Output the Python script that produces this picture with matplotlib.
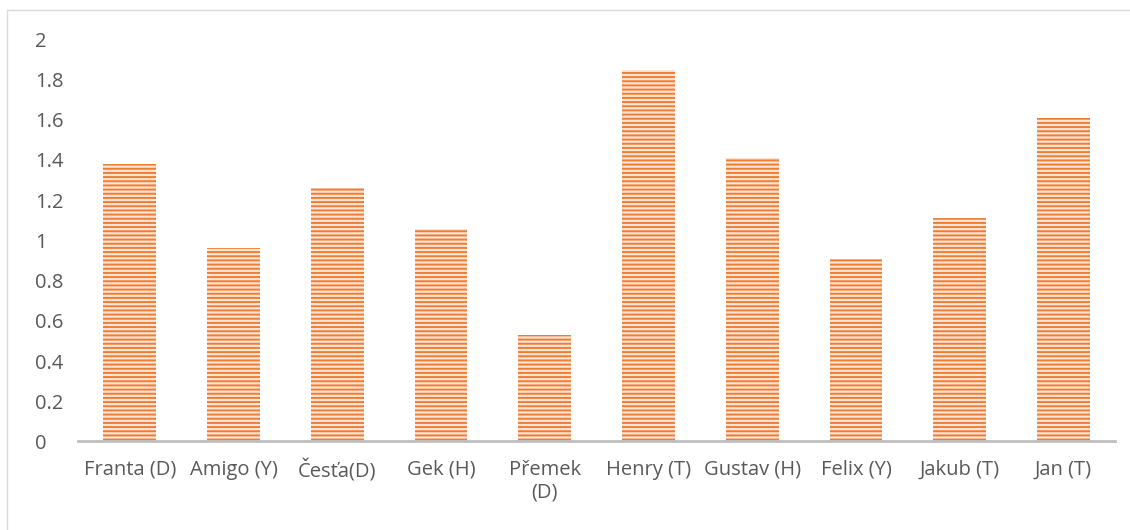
import numpy as np
import matplotlib.pyplot as plt
from matplotlib.patches import Rectangle

# Data
names = ["Franta (D)", "Amigo (Y)", "Česťa(D)", "Gek (H)", "Přemek\n(D)",
         "Henry (T)", "Gustav (H)", "Felix (Y)", "Jakub (T)", "Jan (T)"]
values = [1.38, 0.96, 1.26, 1.055, 0.53, 1.845, 1.41, 0.905, 1.11, 1.61]
y_ticks = [0, 0.2, 0.4, 0.6, 0.8, 1, 1.2, 1.4, 1.6, 1.8, 2]
y_tick_labels = ["0", "0.2", "0.4", "0.6", "0.8", "1", "1.2", "1.4", "1.6", "1.8", "2"]

orange = "#ED7D31"
text_gray = "#595959"

plt.rcParams['font.family'] = ['Open Sans', 'DejaVu Sans']
plt.rcParams['hatch.linewidth'] = 1.4
plt.rcParams['hatch.color'] = orange

fig = plt.figure(figsize=(11.3, 5.3), dpi=100)
ax = fig.add_axes([0.069, 0.167, 0.918, 0.759])

# light chart border (left and top visible)
fig.patches.append(Rectangle((0.006, -0.1), 1.2, 1.081, transform=fig.transFigure,
                             fill=False, edgecolor="#D9D9D9", linewidth=1))

x = np.arange(len(names))
ax.bar(x, values, width=0.51, color="#FCE4D6", edgecolor=orange,
       linewidth=0, hatch="----", zorder=2)

ax.set_xlim(-0.5, len(names) - 0.5)
ax.set_ylim(0, 2)
ax.set_yticks(y_ticks)
ax.set_yticklabels(y_tick_labels)
ax.set_xticks(x)
ax.set_xticklabels(names, linespacing=1.2)

for s in ["top", "right", "left"]:
    ax.spines[s].set_visible(False)
ax.spines["bottom"].set_color("#BFBFBF")
ax.spines["bottom"].set_linewidth(2)

ax.tick_params(axis="both", length=0, colors=text_gray, labelsize=14.5)
ax.tick_params(axis="y", pad=31)
ax.tick_params(axis="x", pad=13)
for lbl in ax.get_yticklabels():
    lbl.set_horizontalalignment("left")

plt.savefig("out.png", dpi=100)
